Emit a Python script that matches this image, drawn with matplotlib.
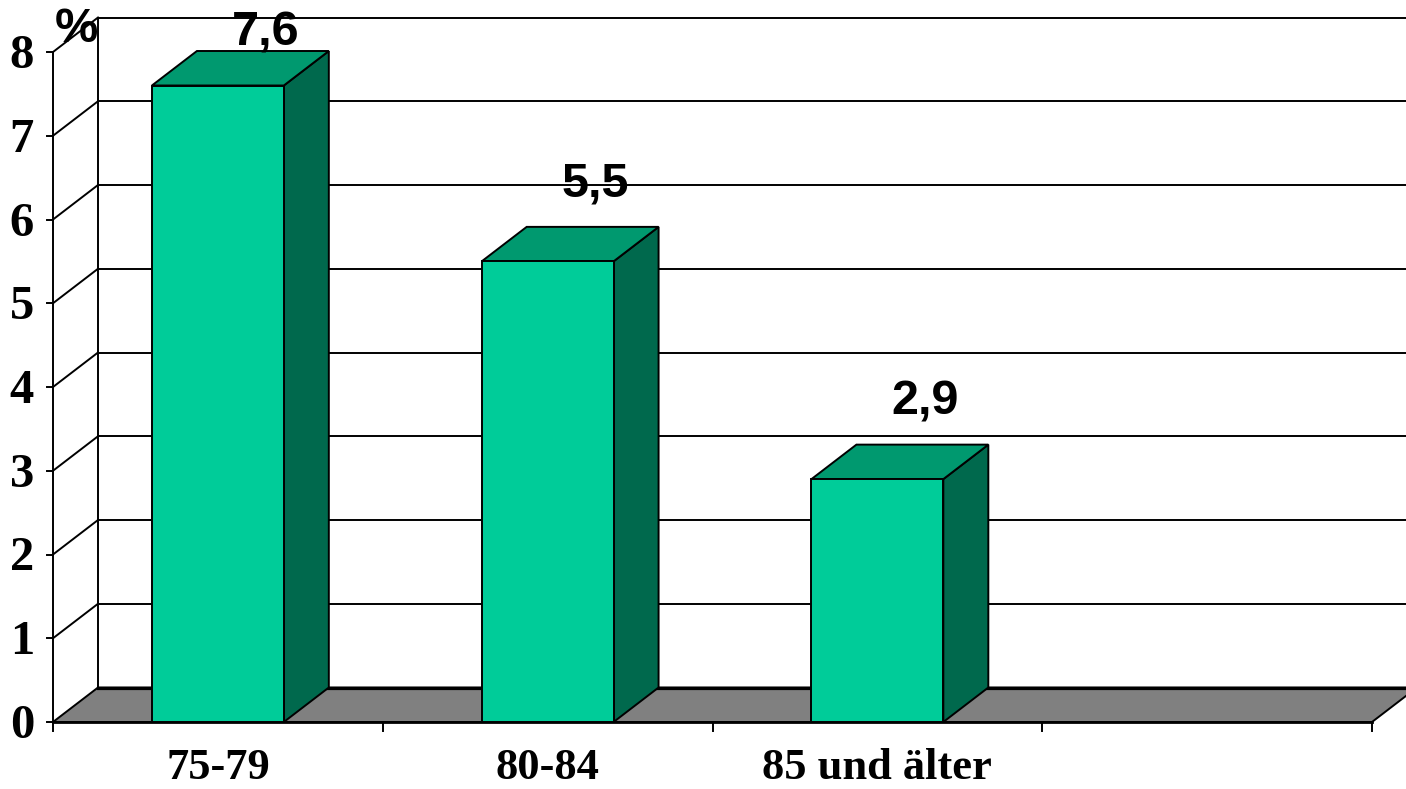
import matplotlib
matplotlib.use("Agg")
import matplotlib.pyplot as plt
from matplotlib.patches import Polygon

# ---- data ----
categories = ["75-79", "80-84", "85 und älter", ""]
values = [7.6, 5.5, 2.9]
value_labels = ["7,6", "5,5", "2,9"]
y_ticks = [0, 1, 2, 3, 4, 5, 6, 7, 8]
unit_label = "%"

# ---- style ----
FRONT = "#00CC99"
TOP = "#00996F"
SIDE = "#00694D"
FLOOR = "#808080"
EDGE = "black"

W, H, DPI = 1406, 789, 100
fig = plt.figure(figsize=(W / DPI, H / DPI), dpi=DPI)
ax = fig.add_axes([0, 0, 1, 1])
ax.set_axis_off()

# pixel geometry of the front plane
x0_px, x4_px = 53, 1372
y0_px, px_per_unit = 722, 83.75
sx = (x4_px - x0_px) / len(categories)
ax.set_xlim(-x0_px / sx, (W - x0_px) / sx)
ax.set_ylim(-(H - y0_px) / px_per_unit, y0_px / px_per_unit)

ymax = y_ticks[-1]
ncat = len(categories)
dx = 45 / sx             # depth offset in x (data units)
dy = 34.5 / px_per_unit  # depth offset in y (data units)
px = 1 / sx
py = 1 / px_per_unit

lw = 1.4

# back wall gridlines
for t in y_ticks[1:]:
    ax.plot([dx, ncat + dx + 1], [t + dy, t + dy], color=EDGE, lw=lw, zorder=1)
# back wall left edge
ax.plot([dx, dx], [dy, ymax + dy], color=EDGE, lw=lw, zorder=1)
# side wall diagonals
for t in y_ticks[1:]:
    ax.plot([0, dx], [t, t + dy], color=EDGE, lw=lw, zorder=1)

# floor
floor = Polygon([(0, 0), (ncat, 0), (ncat + dx, dy), (dx, dy)], closed=True,
                facecolor=FLOOR, edgecolor=EDGE, lw=lw, zorder=2)
ax.add_patch(floor)
ax.plot([dx, ncat + dx + 1], [dy, dy], color=EDGE, lw=2.3, zorder=2)
ax.plot([0, ncat], [0, 0], color=EDGE, lw=2.0, zorder=2)

# bars
bw = 0.4
label_ceiling = ymax + 0.08
for i, v in enumerate(values):
    xl = i + 0.5 - bw / 2
    xr = i + 0.5 + bw / 2
    front = Polygon([(xl, 0), (xr, 0), (xr, v), (xl, v)], closed=True,
                    facecolor=FRONT, edgecolor=EDGE, lw=lw, zorder=3, joinstyle="miter")
    top = Polygon([(xl, v), (xr, v), (xr + dx, v + dy), (xl + dx, v + dy)], closed=True,
                  facecolor=TOP, edgecolor=EDGE, lw=lw, zorder=3, joinstyle="miter")
    side = Polygon([(xr, 0), (xr + dx, dy), (xr + dx, v + dy), (xr, v)], closed=True,
                   facecolor=SIDE, edgecolor=EDGE, lw=lw, zorder=3, joinstyle="miter")
    for p in (side, top, front):
        ax.add_patch(p)
    ly = min(v + dy + 0.36, label_ceiling)
    ax.text(i + 0.5 + dx + 3 * px, ly, value_labels[i], ha="center", va="baseline",
            fontsize=35, fontweight="bold", family="Liberation Sans", zorder=6)

# front y axis
ax.plot([0, 0], [0, ymax], color=EDGE, lw=lw, zorder=4)
for t in y_ticks:
    ax.plot([-6 * px, 0], [t, t], color=EDGE, lw=lw, zorder=4)
    ax.text(-19 * px, t - 16 * py, str(t), ha="right", va="baseline", fontsize=35,
            fontweight="bold", family="Liberation Serif", zorder=5)

# x ticks
for k in range(ncat + 1):
    ax.plot([k, k], [0, -9 * py], color=EDGE, lw=lw, zorder=4)
for i, c in enumerate(categories):
    if c:
        ax.text(i + 0.5, -57 * py, c, ha="center", va="baseline", fontsize=32,
                fontweight="bold", family="Liberation Serif", zorder=5)

# unit label
ax.text(23 * px, ymax + 10 * py, unit_label, ha="center", va="baseline", fontsize=35,
        fontweight="bold", family="Liberation Sans", zorder=6)

fig.savefig("out.png", dpi=DPI)
